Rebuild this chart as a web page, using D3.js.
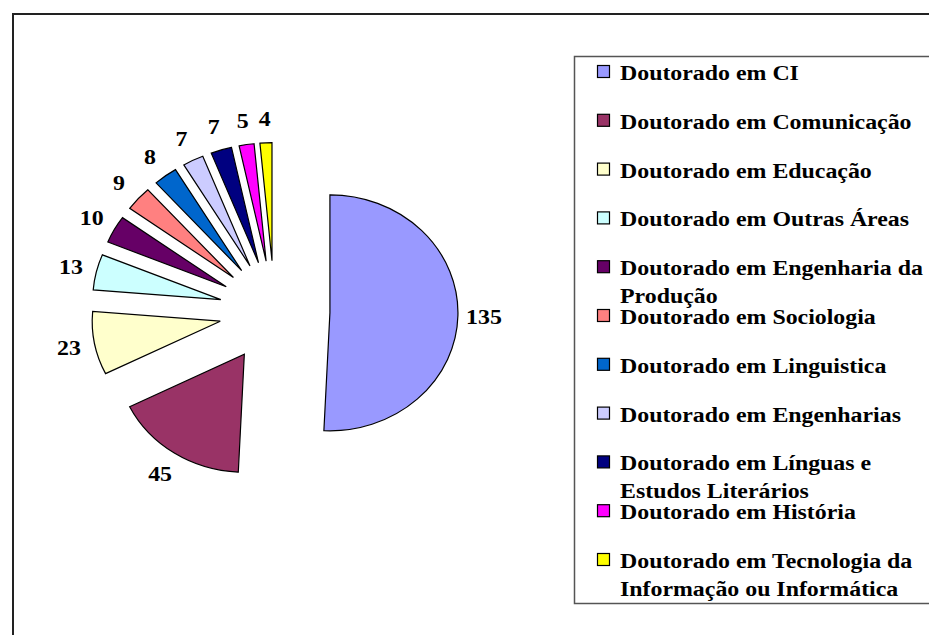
<!DOCTYPE html>
<meta charset="utf-8">
<head>
<style>
body { margin: 0; background: #fff; }
svg { display: block; }
.slice { stroke: #000; stroke-width: 1.2px; }
.label { font-family: "Liberation Serif", "Times New Roman", serif; font-weight: bold; font-size: 22px; fill: #000; }
.legend-text { font-family: "Liberation Serif", "Times New Roman", serif; font-weight: bold; font-size: 22px; fill: #000; }
</style>
<script src="https://d3js.org/d3.v7.min.js"></script>
</head>
<body>
<script>

// data
var categories = [
  "Doutorado em CI",
  "Doutorado em Comunicação",
  "Doutorado em Educação",
  "Doutorado em Outras Áreas",
  "Doutorado em Engenharia da Produção",
  "Doutorado em Sociologia",
  "Doutorado em Linguistica",
  "Doutorado em Engenharias",
  "Doutorado em Línguas e Estudos Literários",
  "Doutorado em História",
  "Doutorado em Tecnologia da Informação ou Informática"
];
var values = [135, 45, 23, 13, 10, 9, 8, 7, 7, 5, 4];
var colors = ["#9999FF", "#993366", "#FFFFCC", "#CCFFFF", "#660066", "#FF8080",
              "#0066CC", "#CCCCFF", "#000080", "#FF00FF", "#FFFF00"];

var width = 929, height = 635;
var cx = 274.6, cy = 311.6;     // pie centre
var radius = 118, explode = 51, labelR = 142;
var xStretch = 1.085;           // picture is slightly wider than tall

var svg = d3.select("body").append("svg")
    .attr("width", width)
    .attr("height", height);

// outer chart frame (runs off the page right and bottom)
svg.append("rect")
    .attr("x", 13).attr("y", 14)
    .attr("width", 1000).attr("height", 1000)
    .attr("fill", "none")
    .attr("stroke", "#222")
    .attr("stroke-width", 2);

var pie = d3.pie().sort(null).value(function(d) { return d; });
var arc = d3.arc().innerRadius(0).outerRadius(radius);
var arcs = pie(values);

var g = svg.append("g")
    .attr("transform", "translate(" + cx + "," + cy + ") scale(" + xStretch + ",1)");

function mid(d) { return (d.startAngle + d.endAngle) / 2; }

g.selectAll("path.slice")
    .data(arcs)
  .enter().append("path")
    .attr("class", "slice")
    .attr("vector-effect", "non-scaling-stroke")
    .attr("fill", function(d, i) { return colors[i]; })
    .attr("transform", function(d) {
      var a = mid(d);
      return "translate(" + (explode * Math.sin(a)) + "," + (-explode * Math.cos(a)) + ")";
    })
    .attr("d", arc);

g.selectAll("text.label")
    .data(arcs)
  .enter().append("text")
    .attr("class", "label")
    .attr("text-anchor", "middle")
    .attr("x", function(d) { return (explode + labelR) * Math.sin(mid(d)); })
    .attr("y", function(d) { return -(explode + labelR) * Math.cos(mid(d)); })
    .attr("dy", "0.34em")
    .text(function(d) { return d.value; });

// legend
var legX = 574.5, legY = 56.5, legH = 547;
svg.append("rect")
    .attr("x", legX).attr("y", legY)
    .attr("width", 500).attr("height", legH)
    .attr("fill", "#fff")
    .attr("stroke", "#555")
    .attr("stroke-width", 1.5);

var rowStep = 48.8, firstBase = 80, lineH = 28, maxW = 285;

var rows = svg.selectAll("g.legend-row")
    .data(categories)
  .enter().append("g")
    .attr("class", "legend-row")
    .attr("transform", function(d, i) { return "translate(0," + (firstBase + i * rowStep) + ")"; });

rows.append("rect")
    .attr("x", 597.5).attr("y", -14.5)
    .attr("width", 12).attr("height", 12)
    .attr("fill", function(d, i) { return colors[i]; })
    .attr("stroke", "#000")
    .attr("stroke-width", 1.2);

rows.each(function(name) {
  var t = d3.select(this).append("text")
      .attr("class", "legend-text")
      .attr("transform", "translate(620,0) scale(" + xStretch + ",1)");
  var words = name.split(" "), line = [], lineNo = 0;
  var ts = t.append("tspan").attr("x", 0).attr("y", 0);
  words.forEach(function(w) {
    line.push(w);
    ts.text(line.join(" "));
    if (ts.node().getComputedTextLength() > maxW && line.length > 1) {
      line.pop();
      ts.text(line.join(" "));
      line = [w];
      lineNo++;
      ts = t.append("tspan").attr("x", 0).attr("y", lineNo * lineH).text(w);
    }
  });
});

</script>
</body>
</html>
